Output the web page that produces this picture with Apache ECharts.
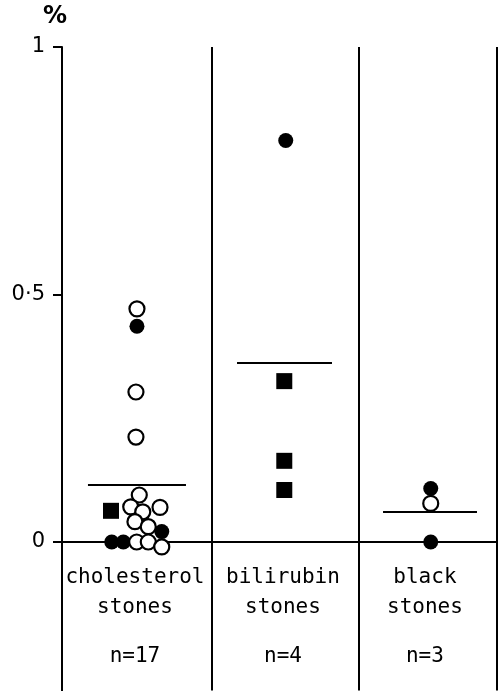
<!DOCTYPE html>
<html>
<head>
<meta charset="utf-8">
<script src="https://cdn.jsdelivr.net/npm/echarts@6/dist/echarts.min.js"></script>
<style>
  html, body { margin: 0; padding: 0; background: #fff; }
  #chart { width: 501px; height: 691px; }
</style>
</head>
<body>
<div id="chart"></div>
<script>
// Stone groups along x (group i spans roughly i..i+1)
const groupNames = ['cholesterol', 'bilirubin', 'black'];
const groupCounts = [17, 4, 3];
const labelCenters = [0.503, 1.524, 2.503];
const groupEdges = [1.034, 2.048, 3.0];

// Per-patient values [x position within group, %]
const openCircles = [
  [0.517, 0.471], [0.510, 0.303], [0.510, 0.212],
  [0.533, 0.095], [0.474, 0.071], [0.557, 0.061], [0.676, 0.070],
  [0.503, 0.041], [0.595, 0.031],
  [0.515, 0.000], [0.595, 0.000], [0.688, -0.010],
  [2.543, 0.078]
];
const filledCircles = [
  [0.517, 0.436], [0.688, 0.021], [0.343, 0.000], [0.423, 0.000],
  [1.543, 0.811],
  [2.543, 0.108], [2.543, 0.000]
];
const filledSquares = [
  [0.338, 0.063],
  [1.533, 0.325], [1.533, 0.164], [1.533, 0.105]
];

// Group means and the x span of each mean bar
const groupMeans = [0.115, 0.362, 0.061];
const meanSpans = [[0.179, 0.855], [1.207, 1.862], [2.214, 2.862]];

const yTickValues = [0, 0.5, 1];
const yTickLabels = ['0', '0·5', '1'];

const chart = echarts.init(document.getElementById('chart'), null, { renderer: 'canvas' });

const meanSegments = groupMeans.map((m, i) => [
  { coord: [meanSpans[i][0], m] },
  { coord: [meanSpans[i][1], m] }
]);

chart.setOption({
  animation: false,
  backgroundColor: '#fff',
  grid: { left: 62, right: 4, top: 47, height: 643.5, containLabel: false, outerBoundsMode: 'none' },
  xAxis: {
    type: 'value',
    min: 0,
    max: 3,
    splitLine: { show: false },
    axisTick: { show: false },
    axisLine: { show: true, onZero: true, lineStyle: { color: '#000', width: 2 } },
    axisLabel: {
      customValues: labelCenters,
      // labels sit just under the zero line, above the bottom of the plot
      margin: -128,
      color: '#000',
      hideOverlap: false,
      formatter: function (v) {
        const i = labelCenters.indexOf(v);
        if (i < 0) return '';
        return '{a|' + groupNames[i] + '}\n{a|stones}\n{b|n=' + groupCounts[i] + '}';
      },
      rich: {
        a: { fontFamily: 'DejaVu Sans Mono', fontSize: 21, lineHeight: 30, color: '#000' },
        b: { fontFamily: 'DejaVu Sans Mono', fontSize: 21, lineHeight: 68, color: '#000' }
      }
    }
  },
  yAxis: {
    type: 'value',
    min: -0.3,
    max: 1,
    name: '%',
    nameLocation: 'end',
    nameGap: 18,
    nameTextStyle: {
      fontFamily: 'DejaVu Sans',
      fontSize: 24,
      fontWeight: 'bold',
      color: '#000',
      padding: [0, 14, 0, 0]
    },
    splitLine: { show: false },
    axisLine: { show: true, lineStyle: { color: '#000', width: 2 } },
    axisTick: {
      show: true,
      customValues: yTickValues,
      length: 9,
      lineStyle: { color: '#000', width: 2 }
    },
    axisLabel: {
      customValues: yTickValues,
      margin: 17,
      fontFamily: 'DejaVu Sans',
      fontSize: 21,
      color: '#000',
      formatter: function (v) {
        const i = yTickValues.indexOf(v);
        return i < 0 ? '' : yTickLabels[i];
      }
    }
  },
  series: [
    {
      // group separators and mean bars
      type: 'scatter',
      data: [],
      silent: true,
      markLine: {
        silent: true,
        symbol: 'none',
        animation: false,
        label: { show: false },
        lineStyle: { color: '#000', width: 2, type: 'solid', opacity: 1 },
        data: groupEdges.map(x => ({ xAxis: x })).concat(meanSegments)
      }
    },
    {
      name: 'filled squares',
      type: 'scatter',
      symbol: 'rect',
      symbolSize: 16,
      itemStyle: { color: '#000', opacity: 1 },
      data: filledSquares,
      z: 3
    },
    {
      name: 'filled circles',
      type: 'scatter',
      symbol: 'circle',
      symbolSize: 15,
      itemStyle: { color: '#000', opacity: 1 },
      data: filledCircles,
      z: 3
    },
    {
      name: 'open circles',
      type: 'scatter',
      symbol: 'circle',
      symbolSize: 15,
      itemStyle: { color: '#fff', borderColor: '#000', borderWidth: 2.2, opacity: 1 },
      data: openCircles,
      z: 4
    }
  ]
});
</script>
</body>
</html>
